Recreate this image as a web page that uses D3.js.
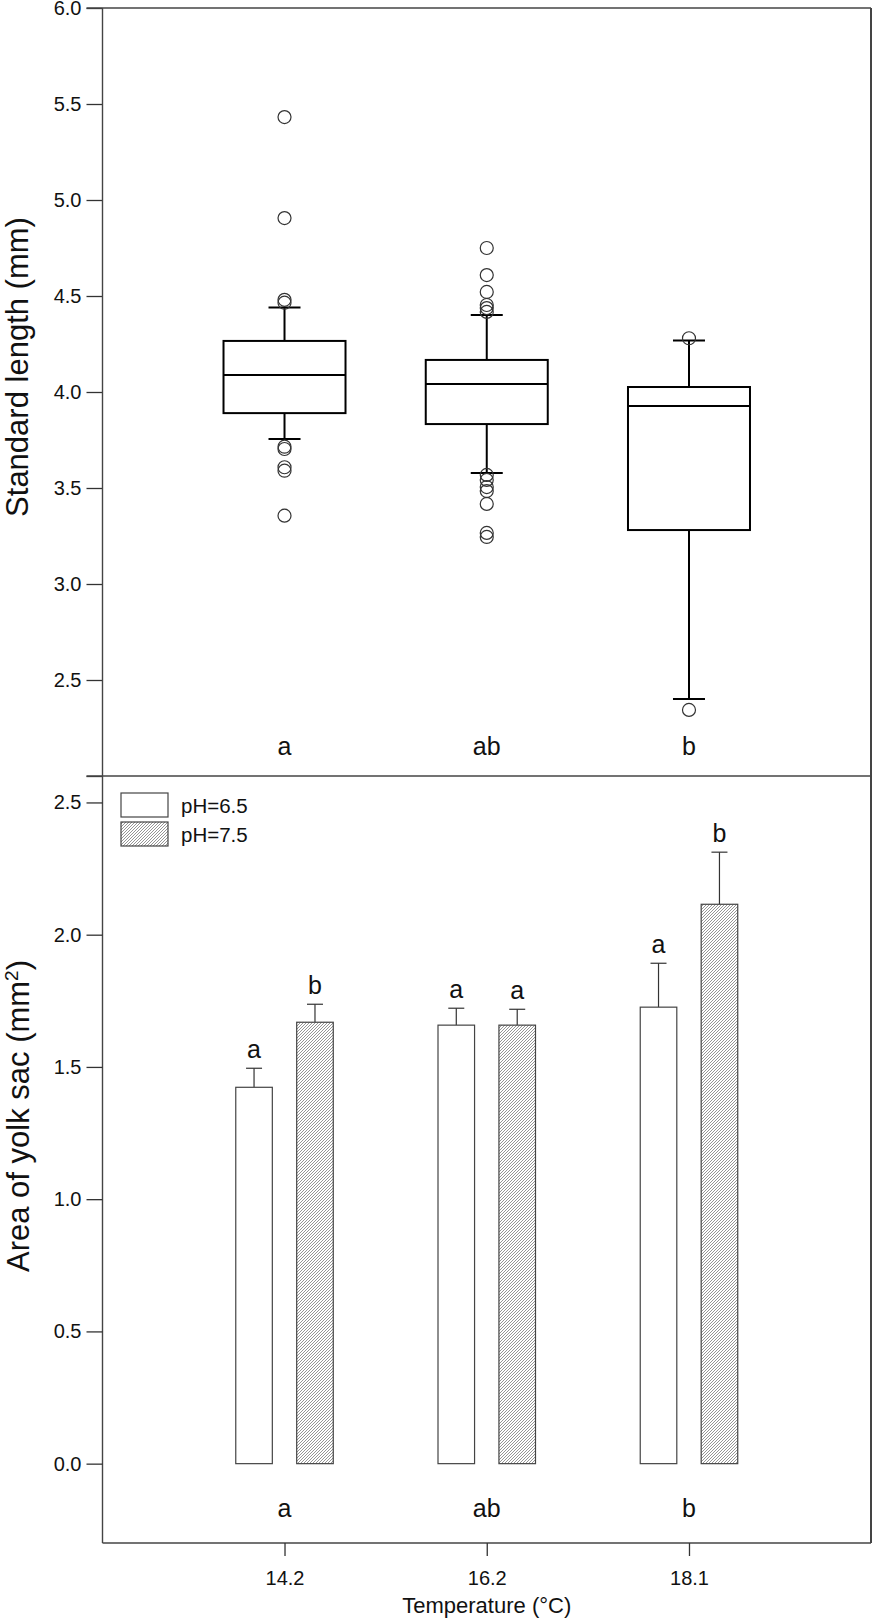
<!DOCTYPE html>
<html>
<head>
<meta charset="utf-8">
<script src="https://cdn.jsdelivr.net/npm/d3@7"></script>
<style>
  html, body { margin: 0; padding: 0; background: #fff; }
  svg { display: block; font-family: "Liberation Sans", Arial, sans-serif; }
</style>
</head>
<body>
<svg id="chart" width="873" height="1620"></svg>
<script>
// ---------- data ----------
const temps = ["14.2", "16.2", "18.1"];
const groupLetters = ["a", "ab", "b"];

// Box plot: standard length (mm)
const boxQ1 = [3.890, 3.833, 3.281];
const boxMedian = [4.089, 4.042, 3.927];
const boxQ3 = [4.266, 4.167, 4.026];
const whiskerLow = [3.755, 3.578, 2.401];
const whiskerHigh = [4.440, 4.401, 4.268];
const outliers14 = [5.432, 4.906, 4.480, 4.465, 3.715, 3.703, 3.608, 3.590, 3.356];
const outliers16 = [4.750, 4.609, 4.521, 4.453, 4.437, 4.417, 3.568, 3.542, 3.505, 3.484, 3.417, 3.266, 3.245];
const outliers18 = [4.280, 2.344];
const outliers = [outliers14, outliers16, outliers18];
const lengthTicks = [2.0, 2.5, 3.0, 3.5, 4.0, 4.5, 5.0, 5.5, 6.0];

// Bar chart: area of yolk sac (mm^2)
const phLevels = ["6.5", "7.5"];
const yolkPH65 = [1.423, 1.658, 1.726];
const yolkPH75 = [1.669, 1.658, 2.115];
const errPH65 = [0.072, 0.064, 0.166];
const errPH75 = [0.068, 0.060, 0.197];
const lettersPH65 = ["a", "a", "a"];
const lettersPH75 = ["b", "a", "b"];
const yolkTicks = [0.0, 0.5, 1.0, 1.5, 2.0, 2.5];

// ---------- layout ----------
const svg = d3.select("#chart");
const left = 102.5, right = 871;
const topY0 = 8, split = 776, botY1 = 1543;
const fontFam = '"Liberation Sans", Arial, sans-serif';
const tickFont = 20;

const defs = svg.append("defs");
const pat = defs.append("pattern").attr("id", "hatch")
  .attr("patternUnits", "userSpaceOnUse").attr("width", 3).attr("height", 3);
pat.append("rect").attr("width", 3).attr("height", 3).attr("fill", "#fff");
pat.append("path").attr("d", "M-0.75,0.75 l1.5,-1.5 M0,3 l3,-3 M2.25,3.75 l1.5,-1.5")
  .attr("stroke", "#7a7a7a").attr("stroke-width", 0.8);

const x = d3.scalePoint().domain(temps).range([left, right]).padding(0.9);

// ---------- top panel ----------
const y1 = d3.scaleLinear().domain([2.0, 6.0]).range([split, topY0]);

const axL1 = svg.append("g").attr("transform", `translate(${left},0)`)
  .call(d3.axisLeft(y1).tickValues(lengthTicks).tickSize(16).tickPadding(5)
    .tickFormat(d => d === 2.0 ? "" : d3.format(".1f")(d)));
axL1.select(".domain").remove();
axL1.selectAll("line").attr("stroke", "#333").attr("stroke-width", 1.3);
axL1.selectAll("text").attr("font-size", tickFont).attr("font-family", fontFam).attr("fill", "#111");

const frame = svg.append("g").attr("stroke", "#444").attr("stroke-width", 1.4).attr("fill", "none");
frame.append("line").attr("x1", left - 16).attr("x2", right).attr("y1", topY0).attr("y2", topY0);
frame.append("line").attr("x1", left).attr("x2", left).attr("y1", topY0).attr("y2", botY1);
frame.append("line").attr("x1", right).attr("x2", right).attr("y1", topY0).attr("y2", botY1)
  .attr("stroke-width", 2);
frame.append("line").attr("x1", left - 16).attr("x2", right).attr("y1", split).attr("y2", split);
frame.append("line").attr("x1", left).attr("x2", right).attr("y1", botY1).attr("y2", botY1);

const boxHalf = 61, capHalf = 16;
const boxes = svg.append("g").attr("stroke", "#000").attr("stroke-width", 2).attr("fill", "none");
temps.forEach((t, i) => {
  const cx = x(t);
  const g = boxes.append("g");
  g.append("line").attr("x1", cx).attr("x2", cx).attr("y1", y1(boxQ3[i])).attr("y2", y1(whiskerHigh[i]));
  g.append("line").attr("x1", cx).attr("x2", cx).attr("y1", y1(boxQ1[i])).attr("y2", y1(whiskerLow[i]));
  g.append("line").attr("x1", cx - capHalf).attr("x2", cx + capHalf).attr("y1", y1(whiskerHigh[i])).attr("y2", y1(whiskerHigh[i]));
  g.append("line").attr("x1", cx - capHalf).attr("x2", cx + capHalf).attr("y1", y1(whiskerLow[i])).attr("y2", y1(whiskerLow[i]));
  g.append("rect").attr("x", cx - boxHalf).attr("width", 2 * boxHalf)
    .attr("y", y1(boxQ3[i])).attr("height", y1(boxQ1[i]) - y1(boxQ3[i]));
  g.append("line").attr("x1", cx - boxHalf).attr("x2", cx + boxHalf).attr("y1", y1(boxMedian[i])).attr("y2", y1(boxMedian[i]));
  svg.append("g").selectAll("circle").data(outliers[i]).join("circle")
    .attr("cx", cx).attr("cy", d => y1(d)).attr("r", 6.5)
    .attr("fill", "none").attr("stroke", "#333").attr("stroke-width", 1.2);
});

svg.append("g").selectAll("text").data(temps).join("text")
  .attr("x", d => x(d)).attr("y", 755).attr("text-anchor", "middle")
  .attr("font-size", 25).attr("fill", "#111").text((d, i) => groupLetters[i]);

svg.append("text").attr("transform", `translate(28,${367}) rotate(-90)`)
  .attr("text-anchor", "middle").attr("font-size", 31).attr("fill", "#111")
  .text("Standard length (mm)");

// ---------- bottom panel ----------
const y2 = d3.scaleLinear().domain([-0.3, 2.6]).range([botY1, split]);
const xs = d3.scaleBand().domain(phLevels).range([-48.75, 48.75]).paddingInner(0.4);

const axL2 = svg.append("g").attr("transform", `translate(${left},0)`)
  .call(d3.axisLeft(y2).tickValues(yolkTicks).tickSize(16).tickPadding(5).tickFormat(d3.format(".1f")));
axL2.select(".domain").remove();
axL2.selectAll("line").attr("stroke", "#333").attr("stroke-width", 1.3);
axL2.selectAll("text").attr("font-size", tickFont).attr("font-family", fontFam).attr("fill", "#111");

const axB = svg.append("g").attr("transform", `translate(0,${botY1})`)
  .call(d3.axisBottom(x).tickSize(13).tickPadding(15));
axB.select(".domain").remove();
axB.selectAll("line").attr("stroke", "#333").attr("stroke-width", 1.3);
axB.selectAll("text").attr("font-size", tickFont).attr("font-family", fontFam).attr("fill", "#111");

const series = [
  { ph: "6.5", vals: yolkPH65, err: errPH65, letters: lettersPH65, fill: "#fff" },
  { ph: "7.5", vals: yolkPH75, err: errPH75, letters: lettersPH75, fill: "url(#hatch)" }
];
const bw = xs.bandwidth();
series.forEach(s => {
  const g = svg.append("g");
  temps.forEach((t, i) => {
    const bx = x(t) + xs(s.ph);
    const cx = bx + bw / 2;
    const top = y2(s.vals[i]);
    const capY = y2(s.vals[i] + s.err[i]);
    g.append("line").attr("x1", cx).attr("x2", cx).attr("y1", top).attr("y2", capY)
      .attr("stroke", "#333").attr("stroke-width", 1.2);
    g.append("line").attr("x1", cx - 8).attr("x2", cx + 8).attr("y1", capY).attr("y2", capY)
      .attr("stroke", "#333").attr("stroke-width", 1.2);
    g.append("rect").attr("x", bx).attr("width", bw).attr("y", top).attr("height", y2(0) - top)
      .attr("fill", s.fill).attr("stroke", "#444").attr("stroke-width", 1.2);
    g.append("text").attr("x", cx).attr("y", capY - 10).attr("text-anchor", "middle")
      .attr("font-size", 25).attr("fill", "#111").text(s.letters[i]);
  });
});

svg.append("g").selectAll("text").data(temps).join("text")
  .attr("x", d => x(d)).attr("y", 1517).attr("text-anchor", "middle")
  .attr("font-size", 25).attr("fill", "#111").text((d, i) => groupLetters[i]);

// legend
const leg = svg.append("g");
series.forEach((s, k) => {
  leg.append("rect").attr("x", 121).attr("y", 793 + k * 29).attr("width", 47).attr("height", 24)
    .attr("fill", s.fill).attr("stroke", "#444").attr("stroke-width", 1.2);
  leg.append("text").attr("x", 181).attr("y", 813 + k * 29).attr("font-size", 20.5).attr("fill", "#111")
    .text("pH=" + s.ph);
});

const yt = svg.append("text").attr("transform", `translate(29,${1116}) rotate(-90)`)
  .attr("text-anchor", "middle").attr("font-size", 31).attr("fill", "#111");
yt.append("tspan").text("Area of yolk sac (mm");
yt.append("tspan").attr("font-size", 19).attr("dy", -11).text("2");
yt.append("tspan").attr("dy", 11).text(")");

svg.append("text").attr("x", (left + right) / 2).attr("y", 1613).attr("text-anchor", "middle")
  .attr("font-size", 22).attr("fill", "#111").text("Temperature (°C)");
</script>
</body>
</html>
